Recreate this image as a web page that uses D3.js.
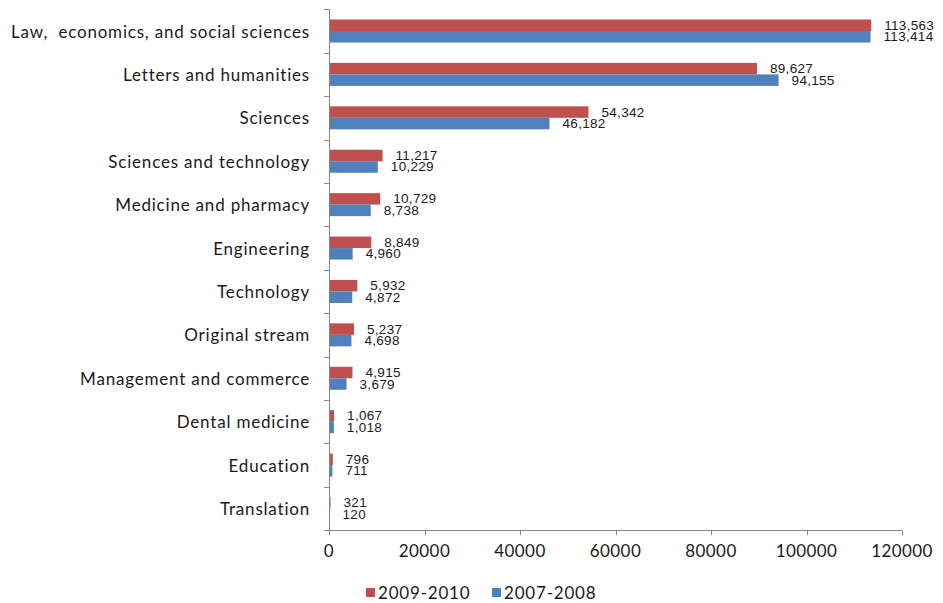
<!DOCTYPE html>
<html>
<head>
<meta charset="utf-8">
<script src="https://cdn.jsdelivr.net/npm/d3@7"></script>
<style>
  html, body { margin: 0; padding: 0; background: #fff; }
  svg { display: block; }
  text { white-space: pre; }
</style>
</head>
<body>
<svg id="chart" width="943" height="603"></svg>
<script>
const categories = [
  "Law,  economics, and social sciences",
  "Letters and humanities",
  "Sciences",
  "Sciences and technology",
  "Medicine and pharmacy",
  "Engineering",
  "Technology",
  "Original stream",
  "Management and commerce",
  "Dental medicine",
  "Education",
  "Translation"
];
const seriesNames = ["2009-2010", "2007-2008"];
const values2009 = [113563, 89627, 54342, 11217, 10729, 8849, 5932, 5237, 4915, 1067, 796, 321];
const values2007 = [113414, 94155, 46182, 10229, 8738, 4960, 4872, 4698, 3679, 1018, 711, 120];
const xTicks = [0, 20000, 40000, 60000, 80000, 100000, 120000];
const colors = ["#C0504D", "#4F81BD"];

(function () {
const svg = d3.select("#chart");
const pLeft = 329, pRight = 902, pTop = 9.3, pBottom = 530.2;
const axisColor = "#868686";

const x = d3.scaleLinear().domain([0, 120000]).range([pLeft, pRight]);
const yCat = d3.scaleBand().domain(categories).range([pTop, pBottom]).padding(0);
const y0 = d3.scaleBand().domain(categories).range([pTop, pBottom]).paddingInner(0.47).paddingOuter(0.235);
const y1 = d3.scaleBand().domain(seriesNames).range([0, y0.bandwidth()]);

const data = categories.map((c, i) => ({cat: c, vals: [values2009[i], values2007[i]]}));

// bars
const g = svg.append("g");
data.forEach(d => {
  d.vals.forEach((v, j) => {
    g.append("rect")
      .attr("x", x(0))
      .attr("y", y0(d.cat) + y1(seriesNames[j]))
      .attr("width", x(v) - x(0))
      .attr("height", y1.bandwidth())
      .attr("fill", colors[j]);
  });
});
data.forEach(d => {
  d.vals.forEach((v, j) => {
    g.append("text")
      .attr("x", x(v) + 13)
      .attr("y", y0(d.cat) + y1(seriesNames[j]) + y1.bandwidth() / 2)
      .attr("dominant-baseline", "central")
      .attr("font-family", "Liberation Sans, Arial, sans-serif")
      .attr("font-size", "13.5px")
      .attr("letter-spacing", "0.3px")
      .attr("fill", "#1a1a1a")
      .text(d3.format(",")(v));
  });
});

// y axis
const yAxisG = svg.append("g");
yAxisG.append("line")
  .attr("x1", pLeft + 0.5).attr("x2", pLeft + 0.5)
  .attr("y1", pTop).attr("y2", pBottom)
  .attr("stroke", axisColor).attr("stroke-width", 1);
const boundaries = categories.map(c => yCat(c)).concat([pBottom]);
boundaries.forEach(b => {
  yAxisG.append("line")
    .attr("x1", pLeft - 5).attr("x2", pLeft)
    .attr("y1", Math.round(b) + 0.5).attr("y2", Math.round(b) + 0.5)
    .attr("stroke", axisColor);
});
categories.forEach(c => {
  yAxisG.append("text")
    .attr("x", 310)
    .attr("y", yCat(c) + yCat.bandwidth() / 2)
    .attr("text-anchor", "end")
    .attr("dominant-baseline", "central")
    .attr("font-family", "Lato, sans-serif")
    .attr("font-size", "17px")
    .attr("letter-spacing", "0.8px")
    .attr("fill", "#1a1a1a")
    .text(c);
});

// x axis
const xAxisG = svg.append("g");
xAxisG.append("line")
  .attr("x1", pLeft).attr("x2", pRight)
  .attr("y1", Math.round(pBottom) + 0.5).attr("y2", Math.round(pBottom) + 0.5)
  .attr("stroke", axisColor);
xTicks.forEach(t => {
  xAxisG.append("line")
    .attr("x1", Math.round(x(t)) + 0.5).attr("x2", Math.round(x(t)) + 0.5)
    .attr("y1", pBottom).attr("y2", pBottom + 5)
    .attr("stroke", axisColor);
  xAxisG.append("text")
    .attr("x", x(t))
    .attr("y", 550)
    .attr("text-anchor", "middle")
    .attr("dominant-baseline", "central")
    .attr("font-family", "Lato, sans-serif")
    .attr("font-size", "17px")
    .attr("letter-spacing", "0.4px")
    .attr("fill", "#1a1a1a")
    .text(t);
});

// legend
const legend = svg.append("g");
const legendItems = [{x: 366, name: seriesNames[0], color: colors[0]}, {x: 492, name: seriesNames[1], color: colors[1]}];
legendItems.forEach(li => {
  legend.append("rect")
    .attr("x", li.x).attr("y", 588)
    .attr("width", 9).attr("height", 9)
    .attr("fill", li.color);
  legend.append("text")
    .attr("x", li.x + 12).attr("y", 592.5)
    .attr("dominant-baseline", "central")
    .attr("font-family", "Lato, sans-serif")
    .attr("font-size", "17px")
    .attr("letter-spacing", "0.8px")
    .attr("fill", "#1a1a1a")
    .text(li.name);
});
})();
</script>
</body>
</html>
